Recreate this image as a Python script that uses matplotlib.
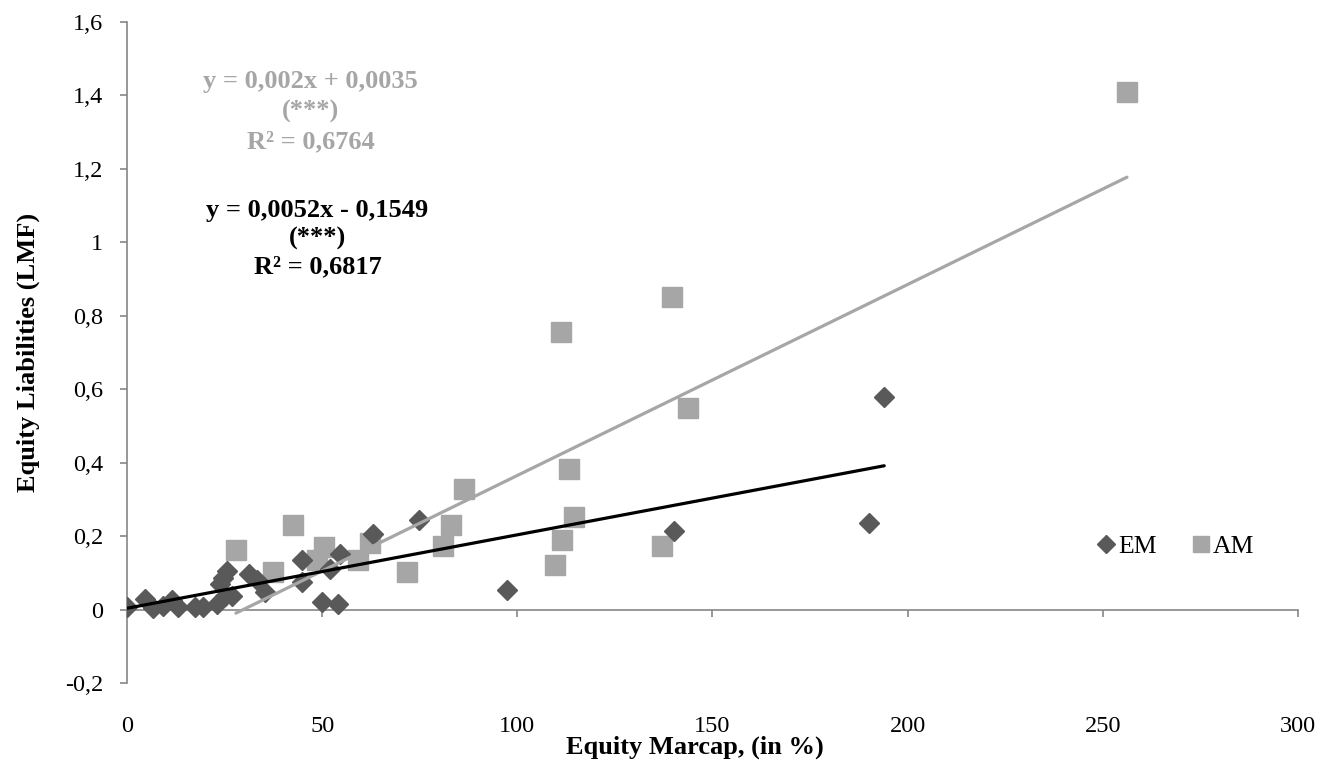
import matplotlib
matplotlib.use("Agg")
import matplotlib.pyplot as plt
import numpy as np
from matplotlib.ticker import FuncFormatter

plt.rcParams['font.family'] = ['Liberation Serif', 'DejaVu Serif']

# EM data (Equity Marcap %, Equity Liabilities)
em_x = [0, 4.6, 6.7, 9.3, 11.5, 13, 17.4, 19.5, 23, 25, 23.8, 25.6, 24.6, 26.9,
        31.3, 33.3, 35.4, 44.8, 44.8, 50, 54, 52, 54.6, 63, 74.8, 97.3, 140.2, 190, 194]
em_y = [0.008, 0.03, 0.003, 0.01, 0.025, 0.006, 0.008, 0.008, 0.014, 0.038, 0.07, 0.106, 0.087, 0.038,
        0.098, 0.08, 0.049, 0.134, 0.074, 0.02, 0.016, 0.11, 0.15, 0.207, 0.245, 0.052, 0.215, 0.237, 0.578]

# AM data
am_x = [27.9, 42.6, 37.4, 48.7, 50.5, 59.2, 62.3, 71.7, 81, 83, 86.3, 109.7, 111.4, 114.5,
        113.2, 111.1, 139.5, 143.7, 137, 256.2]
am_y = [0.161, 0.229, 0.101, 0.134, 0.169, 0.134, 0.18, 0.101, 0.174, 0.229, 0.327, 0.12, 0.188, 0.252,
        0.383, 0.756, 0.851, 0.550, 0.174, 1.409]

# Trendline coefficients (as displayed)
am_slope, am_icpt = 0.0052, -0.1549
em_slope, em_icpt = 0.002, 0.0035

gray_lines = ['y = 0,002x + 0,0035', '(***)', 'R² = 0,6764']
black_lines = ['y = 0,0052x - 0,1549', '(***)', 'R² = 0,6817']

x_ticks = [0, 50, 100, 150, 200, 250, 300]
y_ticks = [-0.2, 0, 0.2, 0.4, 0.6, 0.8, 1.0, 1.2, 1.4, 1.6]

em_color = '#595959'
am_color = '#A6A6A6'
axis_color = '#868686'

fig = plt.figure(figsize=(13.22, 7.68), dpi=100)
ax = fig.add_axes([0.0961, 0.1107, 0.8857, 0.8607])

ax.plot(em_x, em_y, linestyle='none', marker='D', ms=10, color=em_color,
        markeredgecolor=em_color, label='EM', zorder=3)
ax.plot(am_x, am_y, linestyle='none', marker='s', ms=14, color=am_color,
        markeredgecolor=am_color, label='AM', zorder=2)

# trendlines over data range
ax_line = np.array([min(am_x), max(am_x)])
ax.plot(ax_line, am_slope * ax_line + am_icpt, color=am_color, lw=2.3, zorder=4,
        solid_capstyle='round')
ex_line = np.array([min(em_x), max(em_x)])
ax.plot(ex_line, em_slope * ex_line + em_icpt, color='black', lw=2.3, zorder=5,
        solid_capstyle='round')

ax.set_xlim(0, 300)
ax.set_ylim(-0.2, 1.6)

for s in ['top', 'right']:
    ax.spines[s].set_visible(False)
ax.spines['left'].set_color(axis_color)
ax.spines['bottom'].set_color(axis_color)
ax.spines['bottom'].set_position(('data', 0))
ax.spines['left'].set_linewidth(1.2)
ax.spines['bottom'].set_linewidth(1.2)

ax.set_xticks(x_ticks)
ax.set_yticks(y_ticks)
ax.tick_params(axis='x', direction='out', length=5, color=axis_color, width=1.2,
               labelbottom=False)
ax.tick_params(axis='y', direction='out', length=5, color=axis_color, width=1.2,
               labelsize=17.5, pad=12)


def comma_fmt(v, pos):
    s = ('%.1f' % v).rstrip('0').rstrip('.')
    if s == '-0':
        s = '0'
    return s.replace('.', ',')


ax.yaxis.set_major_formatter(FuncFormatter(comma_fmt))

sec = ax.secondary_xaxis('bottom')
sec.set_xticks(x_ticks)
sec.spines['bottom'].set_visible(False)
sec.tick_params(axis='x', length=0, labelsize=17.5, pad=24)
sec.set_xlabel('Equity Marcap, (in %)', fontsize=19, fontweight='bold', labelpad=-1)
sec.xaxis.label.set_x(0.485)

ax.set_ylabel('Equity Liabilities (LMF)', fontsize=19, fontweight='bold', labelpad=18)

# equation annotations (one text per line)
for txt, yy in zip(gray_lines, [1.437, 1.355, 1.274]):
    ax.text(47.0, yy, txt, ha='center', va='center', fontsize=19, fontweight='bold',
            color=am_color)
for txt, yy in zip(black_lines, [1.0875, 1.011, 0.933]):
    ax.text(48.8, yy, txt, ha='center', va='center', fontsize=19, fontweight='bold',
            color='black')

leg = ax.legend(loc='center', bbox_to_anchor=(0.893, 0.207), frameon=False, ncol=2,
                fontsize=18.5, handletextpad=-0.15, columnspacing=1.15, handlelength=1.2,
                markerscale=0.87)

fig.savefig('out.png', dpi=100)
